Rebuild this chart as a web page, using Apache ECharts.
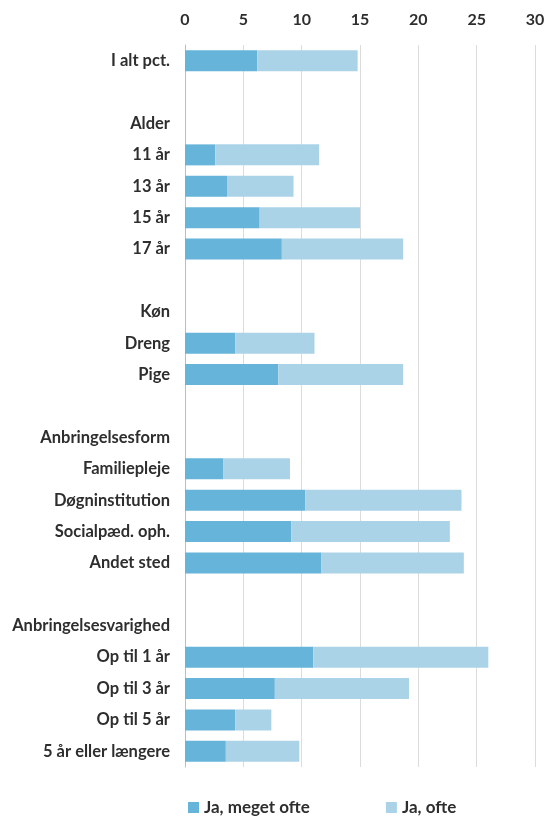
<!DOCTYPE html>
<html><head><meta charset="utf-8">
<script src="https://cdn.jsdelivr.net/npm/echarts@6/dist/echarts.min.js"></script>
<style>html,body{margin:0;padding:0;background:#fff}#c{width:549px;height:816px}</style>
</head><body><div id="c"></div>
<script>
const categories = ["I alt pct.", " ", "Alder", "11 år", "13 år", "15 år", "17 år", "  ", "Køn", "Dreng", "Pige", "   ", "Anbringelsesform", "Familiepleje", "Døgninstitution", "Socialpæd. oph.", "Andet sted", "    ", "Anbringelsesvarighed", "Op til 1 år", "Op til 3 år", "Op til 5 år", "5 år eller længere"];
const jaMegetOfte = [6.2, null, null, 2.6, 3.6, 6.4, 8.3, null, null, 4.3, 8.0, null, null, 3.3, 10.3, 9.1, 11.7, null, null, 11.0, 7.7, 4.3, 3.5];
const jaOfte = [8.6, null, null, 8.9, 5.7, 8.6, 10.4, null, null, 6.8, 10.7, null, null, 5.7, 13.4, 13.6, 12.2, null, null, 15.0, 11.5, 3.1, 6.3];
const xTicks = [0, 5, 10, 15, 20, 25, 30];

const txt = '#2e2e2e';
const font = 'Lato';
const chart = echarts.init(document.getElementById('c'), null, {renderer: 'canvas'});
chart.setOption({
  animation: false,
  grid: {left: 185, right: 14, top: 45, bottom: 49, containLabel: false},
  xAxis: {
    type: 'value', position: 'top', min: xTicks[0], max: xTicks[xTicks.length - 1], interval: 5,
    axisLine: {show: false}, axisTick: {show: false},
    axisLabel: {margin: 17, color: txt, fontFamily: font, fontWeight: 'bold', fontSize: 16},
    splitLine: {show: true, lineStyle: {color: '#dcdcdc', width: 1}}
  },
  yAxis: {
    type: 'category', inverse: true, data: categories,
    axisLine: {show: true, lineStyle: {color: '#bdbdbd'}}, axisTick: {show: false},
    axisLabel: {margin: 15, color: txt, fontFamily: font, fontWeight: 'bold', fontSize: 16.5, interval: 0}
  },
  legend: {
    bottom: -5, left: 183, itemWidth: 11, itemHeight: 11, itemGap: 76,
    icon: 'rect',
    textStyle: {color: txt, fontFamily: font, fontWeight: 'bold', fontSize: 17},
    data: ['Ja, meget ofte', 'Ja, ofte']
  },
  series: [
    {name: 'Ja, meget ofte', type: 'bar', stack: 't', data: jaMegetOfte, barWidth: 21,
     itemStyle: {color: '#66b4d9'}},
    {name: 'Ja, ofte', type: 'bar', stack: 't', data: jaOfte, barWidth: 21,
     itemStyle: {color: '#abd3e8'}}
  ]
});
</script></body></html>
